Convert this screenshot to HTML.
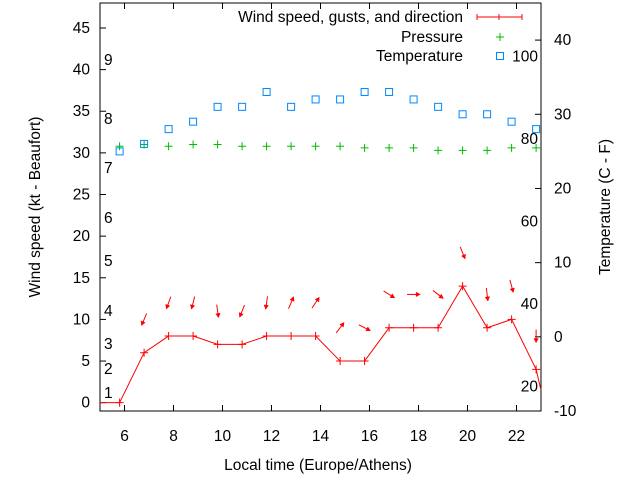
<!DOCTYPE html>
<html><head><meta charset="utf-8"><style>
body{margin:0;background:#fff}
svg{display:block;font-family:"Liberation Sans",sans-serif;font-size:14px}
.big{font-size:15.5px}
</style></head><body>
<svg id="c" width="640" height="480"></svg>
<script>
const hours=[5.8,6.8,7.8,8.8,9.8,10.8,11.8,12.8,13.8,14.8,15.8,16.8,17.8,18.8,19.8,20.8,21.8,22.8];
const windSpeed=[0,6,8,8,7,7,8,8,8,5,5,9,9,9,14,9,10,4];
const gust=[null,10,12,12,11,11,12,12,12,9,9,13,13,13,18,13,14,8];
const arrowAngle=[null,113,110,104,82,112,98,-67,-56,-53,27,32,0,38,68,83,75,90];
const pressure=[30.8,31.0,30.8,31.0,31.0,30.8,30.8,30.8,30.8,30.8,30.6,30.6,30.6,30.3,30.3,30.3,30.6,30.6];
const temperature=[25,26,28,29,31,31,33,31,32,32,33,33,32,31,30,30,29,28];
const xTicks=[6,8,10,12,14,16,18,20,22];
const ktTicks=[0,5,10,15,20,25,30,35,40,45];
const cTicks=[-10,0,10,20,30,40];
const beaufort=[[1,393],[2,369],[3,344],[4,311],[5,261],[6,218],[7,168],[8,119],[9,60]];
const fahr=[20,40,60,80,100];

const L=100,R=541,T=3,B=411;
const X=h=>L+(h-5)/(23-5)*(R-L);
const Y=v=>B-(v+1)/(48+1)*(B-T);
const YC=v=>B-(v+10)/(45+10)*(B-T);
const NS='http://www.w3.org/2000/svg';
const svg=document.getElementById('c');
function mk(t,a,p){const e=document.createElementNS(NS,t);for(const k in a)e.setAttribute(k,a[k]);(p||svg).appendChild(e);return e;}
function txt(s,x,y,anchor,name,cls){const e=mk('text',{x:x,y:y,'text-anchor':anchor||'middle',fill:'#000'});e.textContent=s;
if(cls)e.setAttribute('class',cls);

return e;}

const fr=mk('rect',{x:L,y:T,width:R-L,height:B-T,fill:'none',stroke:'#000','stroke-width':1});


xTicks.forEach(h=>{const x=X(h);
 mk('line',{x1:x,y1:B,x2:x,y2:B-6,stroke:'#000'});mk('line',{x1:x,y1:T,x2:x,y2:T+6,stroke:'#000'});
 txt(String(h),x,441,'middle','x-tick-label','big');});
ktTicks.forEach(v=>{const y=Y(v);mk('line',{x1:L,y1:y,x2:L+6,y2:y,stroke:'#000'});
 txt(String(v),90,y+5,'end','left-tick-label','big');});
cTicks.forEach(v=>{const y=YC(v);mk('line',{x1:R,y1:y,x2:R-6,y2:y,stroke:'#000'});
 txt(String(v),554,y+5,'start','right-tick-label','big');});
beaufort.forEach(b=>txt(String(b[0]),104,b[1]+5,'start','beaufort-label','big'));
fahr.forEach(f=>{const c=(f-32)*5/9;txt(String(f),538,YC(c)+5,'end','fahrenheit-label','big');});

let t=txt('Local time (Europe/Athens)',318,470,'middle','x-axis-title','big');
t=txt('Wind speed (kt - Beaufort)',0,0,'middle','y-axis-title','big');t.setAttribute('transform','translate(40,207) rotate(-90)');
t=txt('Temperature (C - F)',0,0,'middle','y2-axis-title','big');t.setAttribute('transform','translate(610,207) rotate(-90)');

let pts=[[L,Y(0)]].concat(hours.map((h,i)=>[X(h),Y(windSpeed[i])]));
pts.push([R,Y(windSpeed[windSpeed.length-1])+ (Y(0)-Y(1))*2.5]);
const wl=mk('polyline',{points:pts.map(p=>p.join(',')).join(' '),fill:'none',stroke:'#f00','stroke-width':1});


hours.forEach((h,i)=>{const x=X(h),y=Y(windSpeed[i]);
 const g=mk('path',{d:`M${x-4},${y}h8M${x},${y-4}v8`,stroke:'#f00'});
 
 
 if(gust[i]!=null){const a=arrowAngle[i]*Math.PI/180,cx=x,cy=Y(gust[i]),l=6.5;
  const x2=cx+l*Math.cos(a),y2=cy+l*Math.sin(a),x1=cx-l*Math.cos(a),y1=cy-l*Math.sin(a);
  const ar=mk('g',{});
  
  
  mk('line',{x1:x1,y1:y1,x2:x2,y2:y2,stroke:'#f00'},ar);
  const hx=x2-4*Math.cos(a),hy=y2-4*Math.sin(a),px=-Math.sin(a)*2.2,py=Math.cos(a)*2.2;
  mk('polygon',{points:`${x2},${y2} ${hx+px},${hy+py} ${hx-px},${hy-py}`,fill:'#f00',stroke:'#f00','stroke-width':0.5},ar);}
});
hours.forEach((h,i)=>{const x=X(h),y=Y(pressure[i]);
 const g=mk('path',{d:`M${x-4},${y}h8M${x},${y-4}v8`,stroke:'#0b0'});
 
 });
hours.forEach((h,i)=>{const x=X(h),y=YC(temperature[i]);
 const r=mk('rect',{x:x-3.5,y:y-3.5,width:7,height:7,fill:'none',stroke:'#08f'});
 
 });

txt('Wind speed, gusts, and direction',463,22,'end','legend-wind-label','big');
txt('Pressure',463,42,'end','legend-pressure-label','big');
txt('Temperature',463,61,'end','legend-temperature-label','big');
const lg=mk('path',{d:'M477,17h45M477,14v6M499,14v6M522,14v6',stroke:'#f00'});


const lp=mk('path',{d:'M496,37h8M500,33v8',stroke:'#0b0'});


const lt=mk('rect',{x:496.5,y:52.5,width:7,height:7,fill:'none',stroke:'#08f'});


</script>
</body></html>
